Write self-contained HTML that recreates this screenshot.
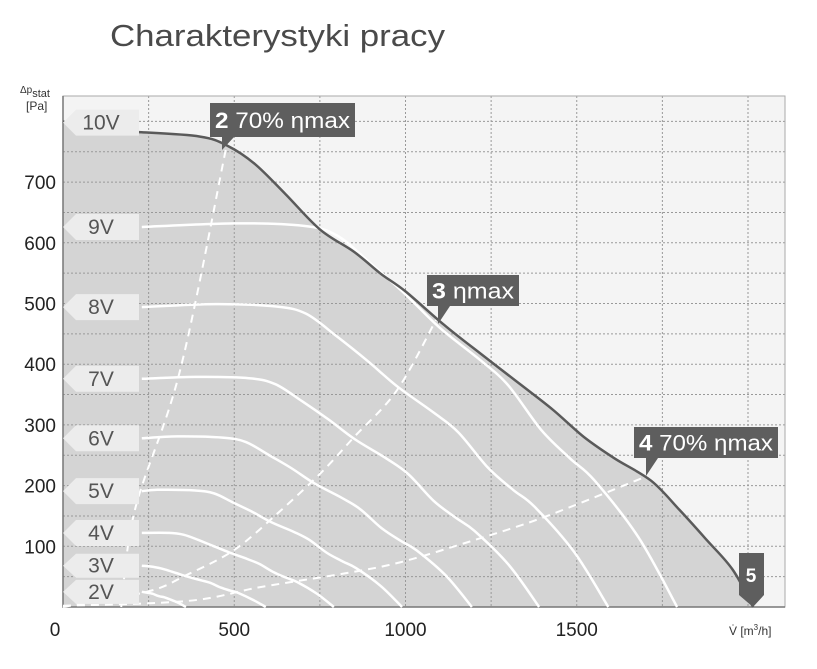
<!DOCTYPE html>
<html><head><meta charset="utf-8"><style>
body{margin:0;background:#fff;}
svg{display:block;font-family:"Liberation Sans",sans-serif;}
</style></head><body>
<svg id="chart" width="817" height="669" viewBox="0 0 817 669" xmlns="http://www.w3.org/2000/svg">
<text x="110" y="46" font-size="31" fill="#4a4a4a" textLength="335" lengthAdjust="spacingAndGlyphs">Charakterystyki pracy</text>
<g id="root"></g>
</svg>
<script>
const xTicks=[0,500,1000,1500];
const yTicks=[100,200,300,400,500,600,700];
const envQ=[0,60,230,400,480,560,650,750,850,928,1000,1112,1220,1337,1430,1521,1610,1717,1800,1880,1956,2015];
const envP=[800,785,782,775,760,730,680,622,585,549,520,465,417,366,325,280,245,208,160,110,61,0];
const voltLabels=["10V","9V","8V","7V","6V","5V","4V","3V","2V"];
const voltLabelP=[798,626,494,376,278,191,122,68,25];
const v9Q=[230,500,700,800,900,1000,1100,1220,1300,1396,1480,1551,1680,1793];
const v9P=[626,632,628,612,565,515,460,406,365,292,245,209,115,0];
const v8Q=[230,444,622,710,799,888,977,1083,1154,1240,1314,1377,1492,1592];
const v8P=[494,499,495,483,446,406,363,320,288,230,193,165,91,0];
const v7Q=[230,388,543,620,698,775,853,946,1008,1082,1147,1202,1302,1390];
const v7P=[376,379,377,367,339,309,276,244,219,175,147,125,69,0];
const v6Q=[230,333,466,533,599,666,733,813,866,930,986,1033,1119,1194];
const v6P=[278,281,279,272,251,229,204,180,162,130,109,93,51,0];
const v5Q=[230,276,386,442,497,552,607,673,718,771,817,856,927,990];
const v5P=[191,193,192,187,172,157,140,124,111,89,75,64,35,0];
const v4Q=[230,309,353,397,441,485,538,573,616,653,684,741,791];
const v4P=[122,122,119,110,100,90,79,71,57,48,41,22,0];
const v3Q=[230,264,297,330,363,403,429,461,488,512,554,592];
const v3P=[68,66,62,56,50,44,40,32,27,23,12,0];
const v2Q=[230,260,279,296,310,336,359];
const v2P=[25,22,18,16,13,7,0];
const eff2Q=[170,210,342,475];
const eff2P=[0,160,390,753];
const eff3Q=[0,245,362,500,628,753,850,975,1089];
const eff3P=[0,25,53,94,155,221,280,357,473];
const eff4Q=[0,365,578,829,987,1200,1404,1707];
const eff4P=[2,10,33,56,74,110,148,216];

const X0=63,XS=0.3425,Y0=607,YS=0.607,PL=63,PR=785,PT=96,PB=607;
const sx=q=>X0+q*XS, sy=p=>Y0-p*YS;
const NS="http://www.w3.org/2000/svg";
const root=document.getElementById('root');
function mk(tag,attrs,parent){const e=document.createElementNS(NS,tag);for(const k in attrs)e.setAttribute(k,attrs[k]);(parent||root).appendChild(e);return e;}
function pathOf(Q,P){const pts=Q.map((q,i)=>[sx(q),sy(P[i])]);
let d='M'+pts[0][0].toFixed(1)+','+pts[0][1].toFixed(1);
for(let i=0;i<pts.length-1;i++){const p0=pts[i-1]||pts[i],p1=pts[i],p2=pts[i+1],p3=pts[i+2]||p2;
const c1=[p1[0]+(p2[0]-p0[0])/6,p1[1]+(p2[1]-p0[1])/6],c2=[p2[0]-(p3[0]-p1[0])/6,p2[1]-(p3[1]-p1[1])/6];
d+=` C${c1[0].toFixed(1)},${c1[1].toFixed(1)} ${c2[0].toFixed(1)},${c2[1].toFixed(1)} ${p2[0].toFixed(1)},${p2[1].toFixed(1)}`;}
return d;}

let bg=mk('rect',{x:PL,y:PT,width:PR-PL,height:PB-PT,fill:'#f4f4f4'});


let area=mk('path',{d:pathOf(envQ,envP)+` L${sx(0)},${sy(0)} Z`,fill:'#d4d4d4'});


for(let q=250;q*XS+X0<PR;q+=250){let g=mk('line',{x1:sx(q),x2:sx(q),y1:PT,y2:PB,stroke:'#999','stroke-width':1,'stroke-dasharray':'2,2'});

}
for(let p=50;sy(p)>PT;p+=50){let g=mk('line',{x1:PL,x2:PR,y1:sy(p),y2:sy(p),stroke:'#999','stroke-width':1,'stroke-dasharray':'2,2'});

}
let fr=mk('rect',{x:PL,y:PT,width:PR-PL,height:PB-PT,fill:'none',stroke:'#aaa','stroke-width':1});


let ax=mk('path',{d:`M${PL},${PT} L${PL},${PB} L${PR},${PB}`,fill:'none',stroke:'#777','stroke-width':1.5});



const curves=[[v9Q,v9P],[v8Q,v8P],[v7Q,v7P],[v6Q,v6P],[v5Q,v5P],[v4Q,v4P],[v3Q,v3P],[v2Q,v2P]];
curves.forEach((c,i)=>{let l=mk('path',{d:pathOf(c[0],c[1]),fill:'none',stroke:'#fff','stroke-width':2.5,'stroke-linejoin':'round'});

});
[[eff2Q,eff2P,'eff-line-70-left'],[eff3Q,eff3P,'eff-line-max'],[eff4Q,eff4P,'eff-line-70-right']].forEach(c=>{let l=mk('path',{d:pathOf(c[0],c[1]),fill:'none',stroke:'#fff','stroke-width':2,'stroke-dasharray':'8,6'});

});
let env=mk('path',{d:pathOf(envQ,envP),fill:'none',stroke:'#5a5a5a','stroke-width':2.5});



voltLabels.forEach((t,i)=>{const cy=sy(voltLabelP[i]);const h=i>=7?24:26;
const g=mk('g',{});


mk('path',{d:`M${PL},${cy} L${PL+13},${cy-h/2} L139,${cy-h/2} L139,${cy+h/2} L${PL+13},${cy+h/2} Z`,fill:'#ececec'},g);
const tx=mk('text',{x:101,y:cy+7,'font-size':21,fill:'#555','text-anchor':'middle'},g);tx.textContent=t;});

function callout(name,x1,y1,x2,y2,tipX,tipY,bold,rest,fs){const g=mk('g',{});


mk('path',{d:`M${x1},${y1} H${x2} V${y2} H${tipX+12} L${tipX},${tipY} L${tipX},${y2} H${x1} Z`,fill:'#5e5e5e'},g);
const t=mk('text',{x:x1+5,y:(y1+y2)/2+8,'font-size':fs,fill:'#fff',textLength:x2-x1-10,lengthAdjust:'spacingAndGlyphs'},g);
const b=document.createElementNS(NS,'tspan');b.setAttribute('font-weight','bold');b.textContent=bold;t.appendChild(b);
const r=document.createElementNS(NS,'tspan');r.textContent=rest;t.appendChild(r);}
callout('callout-2-70-eta-max',210,103,355,137,222,150,'2',' 70% ηmax',22);
callout('callout-3-eta-max',427,275,519,306,438,324,'3',' ηmax',22);
callout('callout-4-70-eta-max',634,427,778,458,646,476,'4',' 70% ηmax',22);
const g5=mk('g',{});


mk('path',{d:'M739,553 H764 V595 L753,607 L739,595 Z',fill:'#5e5e5e'},g5);
const t5=mk('text',{x:751,y:582,'font-size':19,'font-weight':'bold',fill:'#fff','text-anchor':'middle'},g5);t5.textContent='5';

xTicks.forEach(v=>{const t=mk('text',{x:sx(v)+(v===0?-8:0),y:636,'font-size':19,fill:'#222','text-anchor':'middle'});

t.textContent=v;});
yTicks.forEach(v=>{const t=mk('text',{x:56,y:sy(v)+7,'font-size':19,fill:'#222','text-anchor':'end'});

t.textContent=v;});
</script>
<svg style="position:absolute;left:0;top:0" width="817" height="669">
<text x="20" y="93" font-family="Liberation Sans" font-size="10" fill="#333">Δp<tspan dy="4" font-size="11">stat</tspan></text>
<text x="26" y="110" font-family="Liberation Sans" font-size="12" fill="#333">[Pa]</text>
<text x="729" y="635" font-family="Liberation Sans" font-size="12" fill="#333">V̇ [m<tspan dy="-5" font-size="8">3</tspan><tspan dy="5">/h]</tspan></text>
</svg>
</body></html>
